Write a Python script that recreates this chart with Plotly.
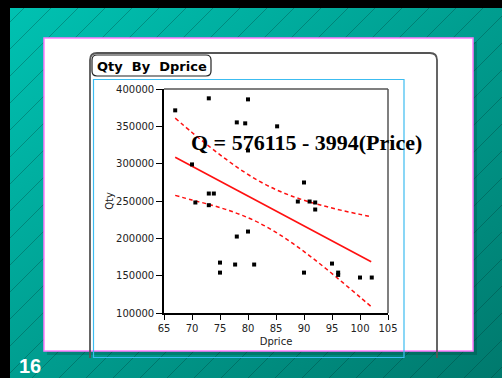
import urllib.parse
import plotly.graph_objects as go

# ---------------- data ----------------
dprice = [67.0, 73.0, 80.0, 78.0, 79.5, 85.2, 80.0, 70.0, 73.0, 73.9, 70.6, 73.0,
          90.0, 88.9, 91.0, 92.0, 92.0, 80.0, 78.0, 75.0, 75.0, 77.7, 81.1, 90.0,
          95.0, 96.1, 96.1, 100.0, 102.1]
qty = [371400, 387500, 386100, 355300, 354000, 350000, 317700, 299000, 260000, 260000,
       248000, 244400, 274800, 249300, 249300, 248000, 238600, 209100, 202400, 167500,
       154100, 164900, 164900, 154100, 166200, 154100, 151000, 147500, 147500]

fit_x = [67, 102]
fit_y = [308500, 168700]

band_x = [67, 70, 73, 76, 79, 82, 85, 88, 91, 94, 97, 100, 102]
band_upper = [361000, 341800, 323600, 306300, 290400, 276600, 265200, 256100, 248700,
              242500, 237000, 232100, 229000]
band_lower = [257500, 251300, 245500, 238800, 230700, 220600, 208000, 193200, 176600,
              158900, 140300, 121300, 108500]

x_ticks = [65, 70, 75, 80, 85, 90, 95, 100, 105]
y_ticks = [100000, 150000, 200000, 250000, 300000, 350000, 400000]

title_text = "Qty\u00a0 By\u00a0 Dprice"
equation_text = "Q = 576115 - 3994(Price)"
slide_number = "16"

# ---------------- geometry helpers ----------------
W, H = 502, 378
L, R, T, B = 164, 388, 89, 313
PW, PH = R - L, B - T


def px(x):
    return (x - L) / PW


def py(y):
    return (B - y) / PH


# ---------------- background image (gradient + stripes + frame) ----------------
BW, BH = W + 20, H + 20
stripes = "".join(
    f"<line x1='{x0}' y1='{BH}' x2='{x0 + BH}' y2='0' stroke='rgba(0,50,45,0.30)' stroke-width='1'/>"
    for x0 in range(-420, 540, 27)
)
svg = (
    f"<svg xmlns='http://www.w3.org/2000/svg' width='{BW}' height='{BH}' viewBox='0 0 {BW} {BH}' "
    "preserveAspectRatio='none'>"
    "<defs><linearGradient id='g' x1='0' y1='0' x2='1' y2='1'>"
    "<stop offset='0' stop-color='#00c3b3'/><stop offset='1' stop-color='#00766a'/>"
    "</linearGradient></defs>"
    f"<rect width='{BW}' height='{BH}' fill='url(#g)'/>"
    f"{stripes}"
    f"<rect x='0' y='0' width='{BW}' height='8' fill='#000'/>"
    f"<rect x='0' y='0' width='10' height='{BH}' fill='#000'/>"
    "</svg>"
)
bg_src = "data:image/svg+xml," + urllib.parse.quote(svg)

fig = go.Figure()

# confidence band
fig.add_trace(go.Scatter(x=band_x, y=band_upper, mode="lines", line_shape="spline",
                         line=dict(color="#ff1010", width=1.5, dash="4px,3px"),
                         hoverinfo="skip", showlegend=False))
fig.add_trace(go.Scatter(x=band_x, y=band_lower, mode="lines", line_shape="spline",
                         line=dict(color="#ff1010", width=1.5, dash="4px,3px"),
                         hoverinfo="skip", showlegend=False))
# fit line
fig.add_trace(go.Scatter(x=fit_x, y=fit_y, mode="lines",
                         line=dict(color="#ff1010", width=1.6),
                         hoverinfo="skip", showlegend=False))
# points
fig.add_trace(go.Scatter(x=dprice, y=qty, mode="markers",
                         marker=dict(symbol="square", size=4, color="black",
                                     line=dict(width=0)),
                         showlegend=False))


def rounded_path(x0, y0, x1, y1, r, closed=True):
    # pixel coords, y down; returns paper path
    pts = []
    if closed:
        pts.append(f"M{px(x0 + r)},{py(y0)}")
        pts.append(f"L{px(x1 - r)},{py(y0)}")
        pts.append(f"Q{px(x1)},{py(y0)} {px(x1)},{py(y0 + r)}")
        pts.append(f"L{px(x1)},{py(y1 - r)}")
        pts.append(f"Q{px(x1)},{py(y1)} {px(x1 - r)},{py(y1)}")
        pts.append(f"L{px(x0 + r)},{py(y1)}")
        pts.append(f"Q{px(x0)},{py(y1)} {px(x0)},{py(y1 - r)}")
        pts.append(f"L{px(x0)},{py(y0 + r)}")
        pts.append(f"Q{px(x0)},{py(y0)} {px(x0 + r)},{py(y0)}")
        pts.append("Z")
    else:
        pts.append(f"M{px(x0)},{py(y1)}")
        pts.append(f"L{px(x0)},{py(y0 + r)}")
        pts.append(f"Q{px(x0)},{py(y0)} {px(x0 + r)},{py(y0)}")
        pts.append(f"L{px(x1 - r)},{py(y0)}")
        pts.append(f"Q{px(x1)},{py(y0)} {px(x1)},{py(y0 + r)}")
        pts.append(f"L{px(x1)},{py(y1)}")
    return " ".join(pts)


shapes = [
    # panel shadow
    dict(type="rect", xref="paper", yref="paper", x0=px(47), x1=px(477), y0=py(42), y1=py(355),
         fillcolor="rgba(0,0,0,0.15)", line=dict(width=0), layer="below"),
    # white panel with pink border
    dict(type="rect", xref="paper", yref="paper", x0=px(44), x1=px(473), y0=py(38), y1=py(351),
         fillcolor="white", line=dict(color="#ff7cff", width=1.5), layer="below"),
    # dark rounded frame (open at bottom)
    dict(type="path", xref="paper", yref="paper", path=rounded_path(90, 53, 437, 358, 7, closed=False),
         line=dict(color="#555555", width=1.8), layer="below"),
    # cyan frame
    dict(type="rect", xref="paper", yref="paper", x0=px(93.5), x1=px(404), y0=py(79.5), y1=py(357.5),
         line=dict(color="#3cbcf0", width=1.2), layer="below"),
    # title box
    dict(type="path", xref="paper", yref="paper", path=rounded_path(92, 55, 211, 76, 5),
         fillcolor="white", line=dict(color="#222222", width=1.2), layer="below"),
    # top / right frame of the plot
    dict(type="line", xref="paper", yref="paper", x0=0, x1=1, y0=1, y1=1,
         line=dict(color="#555555", width=1.5)),
    dict(type="line", xref="paper", yref="paper", x0=1, x1=1, y0=0, y1=1,
         line=dict(color="#555555", width=1.5)),
]

annotations = [
    dict(text=title_text, xref="paper", yref="paper", x=px(151.5), y=py(66),
         xanchor="center", yanchor="middle", showarrow=False,
         font=dict(family="DejaVu Sans", size=13, color="black", weight="bold")),
    dict(text=f"<b>{equation_text}</b>", xref="paper", yref="paper", x=px(189), y=py(142),
         xanchor="left", yanchor="middle", showarrow=False,
         font=dict(family="Liberation Serif", size=22, color="black")),
    dict(text=f"<b>{slide_number}</b>", xref="paper", yref="paper", x=px(17), y=py(366),
         xanchor="left", yanchor="middle", showarrow=False,
         font=dict(family="Liberation Sans", size=20, color="white")),
]

axis_font = dict(family="DejaVu Sans", size=10, color="#222222")

fig.update_layout(
    width=W, height=H, autosize=False,
    margin=dict(l=L, r=W - R, t=T, b=H - B, pad=0),
    paper_bgcolor="#009a8c",
    plot_bgcolor="rgba(0,0,0,0)",
    images=[dict(source=bg_src, xref="paper", yref="paper", x=px(0), y=py(0),
                 sizex=BW / PW, sizey=BH / PH, xanchor="left", yanchor="top",
                 sizing="stretch", layer="below")],
    shapes=shapes,
    annotations=annotations,
    showlegend=False,
    xaxis=dict(range=[65, 105], tickvals=x_ticks, ticktext=[str(v) for v in x_ticks],
               showgrid=False, zeroline=False, showline=True, linecolor="black", linewidth=1.5,
               ticks="outside", ticklen=5, tickwidth=1, tickcolor="black",
               tickfont=axis_font,
               title=dict(text="Dprice", font=axis_font, standoff=5)),
    yaxis=dict(range=[100000, 400000], tickvals=y_ticks, ticktext=[str(v) for v in y_ticks],
               showgrid=False, zeroline=False, showline=True, linecolor="black", linewidth=1.5,
               ticks="outside", ticklen=6, tickwidth=1, tickcolor="black",
               tickfont=axis_font,
               title=dict(text="Qty", font=axis_font, standoff=1)),
)

fig.write_html("out.html", config={"displayModeBar": False})
